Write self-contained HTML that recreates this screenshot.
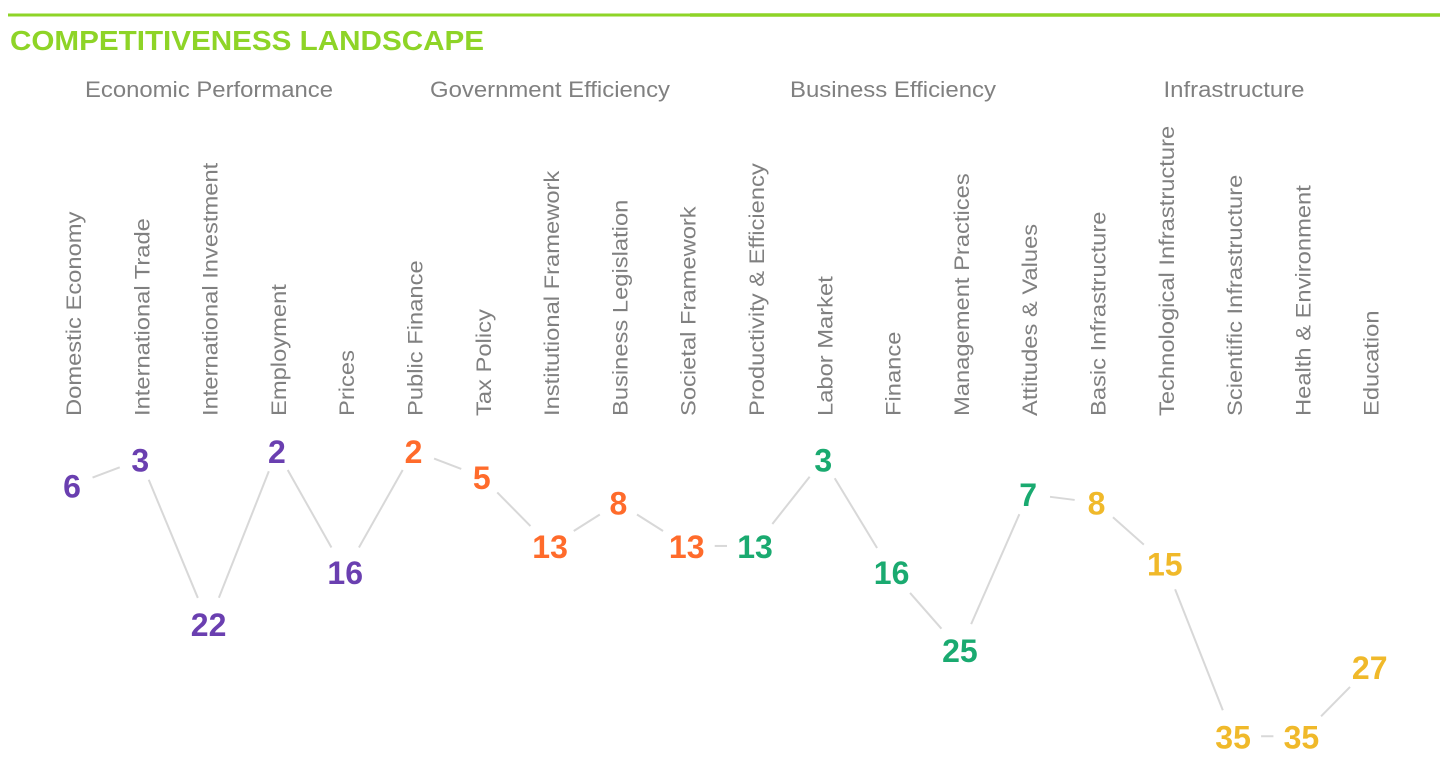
<!DOCTYPE html>
<html><head><meta charset="utf-8"><style>
html,body{margin:0;padding:0;background:#fff;}
svg{display:block;font-family:"Liberation Sans",Arial,sans-serif;}
</style></head><body>
<svg width="1448" height="762" viewBox="0 0 1448 762">
<line x1="8" y1="15" x2="690" y2="15" stroke="#8ed427" stroke-width="3"/>
<line x1="690" y1="15" x2="1440" y2="15" stroke="#8ed427" stroke-width="3.5"/>
<text x="10" y="50" font-size="28" font-weight="bold" fill="#8ed427" textLength="474" lengthAdjust="spacingAndGlyphs">COMPETITIVENESS LANDSCAPE</text>
<g font-size="22" fill="#808080" text-anchor="middle">
<text x="209" y="97" textLength="248" lengthAdjust="spacingAndGlyphs">Economic Performance</text>
<text x="550" y="97" textLength="240" lengthAdjust="spacingAndGlyphs">Government Efficiency</text>
<text x="893" y="97" textLength="206" lengthAdjust="spacingAndGlyphs">Business Efficiency</text>
<text x="1234" y="97" textLength="141" lengthAdjust="spacingAndGlyphs">Infrastructure</text>
</g>
<g id="lbl" font-size="21" fill="#808080"></g>
<g id="lines" stroke="#d8d8d8" stroke-width="2"></g>
<g id="nums" font-size="32" font-weight="bold" text-anchor="middle"></g>
</svg>
<script>
var names=["Domestic Economy","International Trade","International Investment","Employment","Prices","Public Finance","Tax Policy","Institutional Framework","Business Legislation","Societal Framework","Productivity & Efficiency","Labor Market","Finance","Management Practices","Attitudes & Values","Basic Infrastructure","Technological Infrastructure","Scientific Infrastructure","Health & Environment","Education"];
var vals=[6,3,22,2,16,2,5,13,8,13,13,3,16,25,7,8,15,35,35,27];
var cols=["#6a3fb0","#ff6b2b","#1aaa70","#f0b92a"];
var ns="http://www.w3.org/2000/svg";
function X(i){return 72+i*68.3;}
function Y(v){return 433.5+8.65*v;}
var lbl=document.getElementById('lbl'),ln=document.getElementById('lines'),nm=document.getElementById('nums');
for(var i=0;i<20;i++){
 var t=document.createElementNS(ns,'text');
 t.setAttribute('transform','translate('+(X(i)+9)+',416) rotate(-90)');
 t.textContent=names[i];lbl.appendChild(t);
 var len=t.getComputedTextLength();
 t.setAttribute('textLength',len*1.13);t.setAttribute('lengthAdjust','spacingAndGlyphs');
 var n=document.createElementNS(ns,'text');
 n.setAttribute('x',X(i));n.setAttribute('y',Y(vals[i])+12);
 n.setAttribute('fill',cols[Math.floor(i/5)]);n.textContent=vals[i];nm.appendChild(n);
 if(i<19){
  var x1=X(i),y1=Y(vals[i]),x2=X(i+1),y2=Y(vals[i+1]);
  var dx=x2-x1,dy=y2-y1,L=Math.sqrt(dx*dx+dy*dy);
  var w1=vals[i]>9?28:22,w2=vals[i+1]>9?28:22;
  var l=document.createElementNS(ns,'line');
  l.setAttribute('x1',x1+dx*w1/L);l.setAttribute('y1',y1+dy*w1/L);
  l.setAttribute('x2',x2-dx*w2/L);l.setAttribute('y2',y2-dy*w2/L);
  ln.appendChild(l);
 }
}
</script>
</body></html>
